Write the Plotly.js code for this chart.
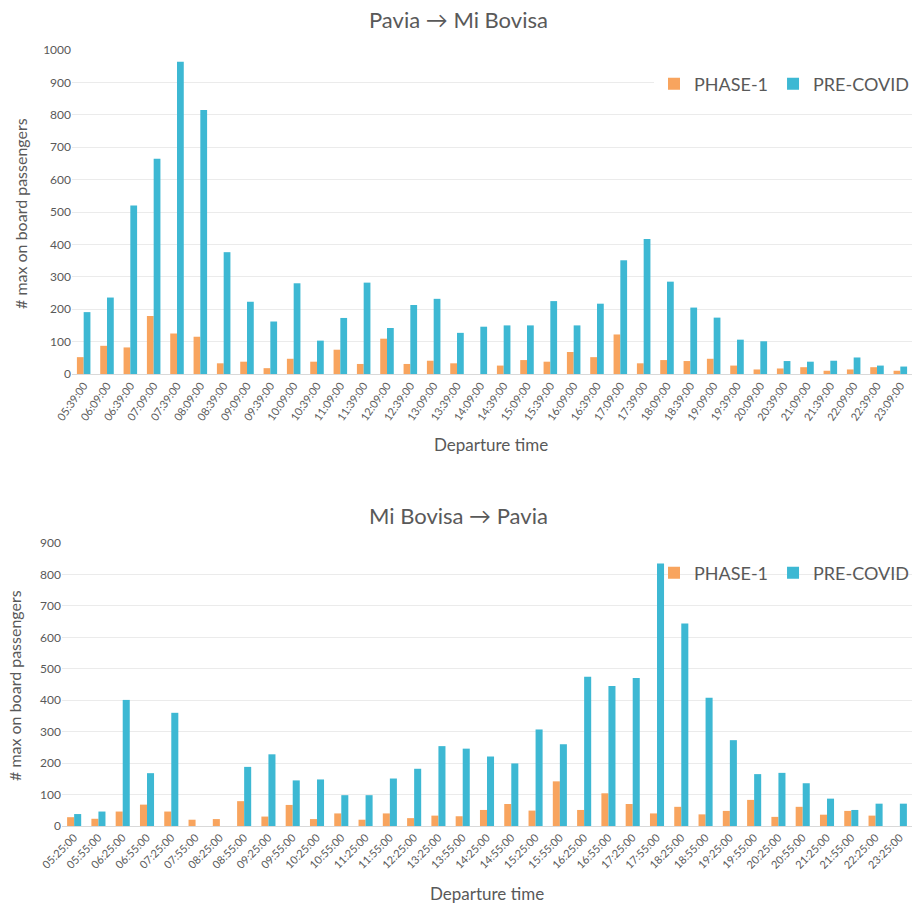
<!DOCTYPE html>
<html>
<head>
<meta charset="utf-8">
<script src="https://cdn.plot.ly/plotly-3.0.1.min.js"></script>
<style>html,body{margin:0;padding:0;background:#fff;}#chart{width:914px;height:905px;}</style>
</head>
<body>
<div id="chart"></div>
<script>
// Pavia -> Mi Bovisa
const timesA = ["05:39:00","06:09:00","06:39:00","07:09:00","07:39:00","08:09:00","08:39:00","09:09:00","09:39:00","10:09:00","10:39:00","11:09:00","11:39:00","12:09:00","12:39:00","13:09:00","13:39:00","14:09:00","14:39:00","15:09:00","15:39:00","16:09:00","16:39:00","17:09:00","17:39:00","18:09:00","18:39:00","19:09:00","19:39:00","20:09:00","20:39:00","21:09:00","21:39:00","22:09:00","22:39:00","23:09:00"];
const phase1A = [52,87,82,179,125,115,33,38,18,47,38,75,31,109,31,41,33,0,26,43,38,68,52,122,33,43,40,47,26,14,17,21,10,14,21,10];
const precovidA = [191,236,520,664,964,815,376,223,162,280,103,173,282,142,213,232,127,146,150,150,225,150,217,351,417,285,205,174,106,101,40,38,41,51,26,23];

// Mi Bovisa -> Pavia
const timesB = ["05:25:00","05:55:00","06:25:00","06:55:00","07:25:00","07:55:00","08:25:00","08:55:00","09:25:00","09:55:00","10:25:00","10:55:00","11:25:00","11:55:00","12:25:00","13:25:00","13:55:00","14:25:00","14:55:00","15:25:00","15:55:00","16:25:00","16:55:00","17:25:00","17:55:00","18:25:00","18:55:00","19:25:00","19:55:00","20:25:00","20:55:00","21:25:00","21:55:00","22:25:00","23:25:00"];
const phase1B = [28,23,46,68,46,20,22,79,30,67,22,40,20,40,25,33,31,51,70,49,142,51,104,70,40,61,37,48,83,29,61,36,48,33,0];
const precovidB = [38,46,401,168,360,0,0,188,228,145,148,98,98,151,182,254,246,221,199,307,260,475,445,471,835,644,408,273,165,169,136,87,51,71,71];

const ORANGE = '#F8A45E';
const BLUE = '#3DB8D3';
const TXT = '#595959';
const FONT = 'Lato, "Open Sans", sans-serif';

const traces = [
  {type:'bar', x:timesA, y:phase1A, name:'PHASE-1', marker:{color:ORANGE}, xaxis:'x', yaxis:'y', legend:'legend'},
  {type:'bar', x:timesA, y:precovidA, name:'PRE-COVID', marker:{color:BLUE}, xaxis:'x', yaxis:'y', legend:'legend'},
  {type:'bar', x:timesB, y:phase1B, name:'PHASE-1', marker:{color:ORANGE}, xaxis:'x2', yaxis:'y2', legend:'legend2'},
  {type:'bar', x:timesB, y:precovidB, name:'PRE-COVID', marker:{color:BLUE}, xaxis:'x2', yaxis:'y2', legend:'legend2'}
];

const H = 905, W = 914;
const py = p => 1 - p / H;
const px = p => p / W;

const xCommon = {type:'category', showgrid:false, showline:true, linecolor:'#d9d9d9', linewidth:1,
  ticks:'', tickfont:{family:FONT, size:11, color:TXT}, zeroline:false, fixedrange:true};
const yCommon = {showgrid:true, gridcolor:'#ebebeb', gridwidth:1, zeroline:false, showline:false,
  ticks:'', dtick:100, tickfont:{family:FONT, size:12, color:TXT}, fixedrange:true};

const legendCommon = {orientation:'h', x:1, xanchor:'right', yanchor:'middle',
  font:{family:FONT, size:18, color:TXT}, itemwidth:30, tracegroupgap:0};

const layout = {
  width:W, height:H,
  margin:{l:0, r:0, t:0, b:0},
  paper_bgcolor:'#fff', plot_bgcolor:'#fff',
  font:{family:FONT, color:TXT},
  barmode:'group', bargap:0.42, bargroupgap:0,
  showlegend:true,
  xaxis:Object.assign({}, xCommon, {domain:[px(72), px(912)], anchor:'y', tickangle:-55}),
  yaxis:Object.assign({}, yCommon, {domain:[py(374), py(50)], anchor:'x', range:[0,1000]}),
  xaxis2:Object.assign({}, xCommon, {domain:[px(62), px(912)], anchor:'y2', tickangle:-45}),
  yaxis2:Object.assign({}, yCommon, {domain:[py(826), py(543)], anchor:'x2', range:[0,900]}),
  legend:Object.assign({}, legendCommon, {y:py(84), bgcolor:'#fff'}),
  legend2:Object.assign({}, legendCommon, {y:py(573), bgcolor:'rgba(0,0,0,0)'}),
  annotations:[
    {text:'Pavia \u2192 Mi Bovisa', xref:'paper', yref:'paper', x:px(458), y:py(20), xanchor:'center', yanchor:'middle', showarrow:false, font:{family:FONT, size:22, color:TXT}},
    {text:'Mi Bovisa \u2192 Pavia', xref:'paper', yref:'paper', x:px(458), y:py(515), xanchor:'center', yanchor:'middle', showarrow:false, font:{family:FONT, size:22, color:TXT}},
    {text:'Departure time', xref:'paper', yref:'paper', x:px(491), y:py(445), xanchor:'center', yanchor:'middle', showarrow:false, font:{family:FONT, size:17, color:TXT}},
    {text:'Departure time', xref:'paper', yref:'paper', x:px(487), y:py(893), xanchor:'center', yanchor:'middle', showarrow:false, font:{family:FONT, size:17, color:TXT}},
    {text:'# max on board passengers', xref:'paper', yref:'paper', x:px(20), y:py(214), xanchor:'center', yanchor:'middle', textangle:-90, showarrow:false, font:{family:FONT, size:16, color:TXT}},
    {text:'# max on board passengers', xref:'paper', yref:'paper', x:px(14), y:py(686), xanchor:'center', yanchor:'middle', textangle:-90, showarrow:false, font:{family:FONT, size:16, color:TXT}}
  ]
};

Plotly.newPlot('chart', traces, layout, {displayModeBar:false, staticPlot:true});
</script>
</body>
</html>
